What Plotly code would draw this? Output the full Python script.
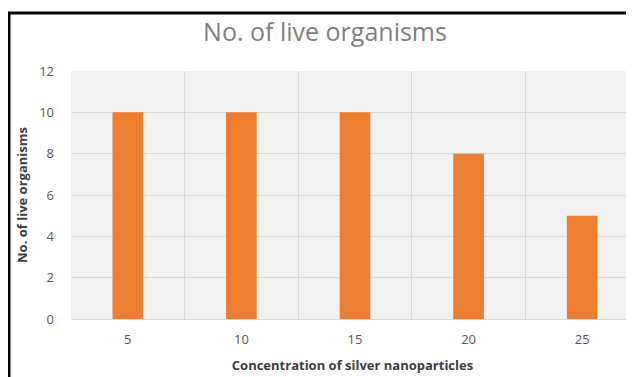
import plotly.graph_objects as go

categories = ["5", "10", "15", "20", "25"]
live_organisms = [10, 10, 10, 8, 5]
y_ticks = [0, 2, 4, 6, 8, 10, 12]

# the page body has an 8px default margin, so the figure is sized to fit
W, H = 626, 369
ml, mr, mt, mb = 63, 0, 63, 58
pw, ph = W - ml - mr, H - mt - mb
CAT_PX = 113.6

def px_x(x):
    return (x - ml) / pw

def px_y(y):
    return (H - mb - y) / ph

fig = go.Figure(go.Bar(
    x=categories, y=live_organisms,
    marker=dict(color="#ED7D31", line=dict(width=0)),
    width=0.27,
))

fig.update_layout(
    width=W, height=H,
    margin=dict(l=ml, r=mr, t=mt, b=mb, pad=0),
    paper_bgcolor="white",
    plot_bgcolor="#f1f1f1",
    showlegend=False,
    title=dict(text="No. of live organisms", x=317 / W, xanchor="center",
               y=1 - 24 / H, yanchor="middle",
               font=dict(family="Open Sans", size=25, color="#7f7f7f")),
    font=dict(family="Open Sans", color="#595959"),
)
fig.update_xaxes(
    type="category", tickson="boundaries", range=[-0.5, -0.5 + pw / CAT_PX],
    showgrid=True, gridcolor="#d9d9d9", gridwidth=1,
    showline=True, linecolor="#d9d9d9", linewidth=1,
    ticks="", tickfont=dict(size=13, color="#595959"), ticklabelstandoff=8,
    title=dict(text="<b>Concentration of silver nanoparticles</b>",
               font=dict(size=13, color="#404040"), standoff=14),
)
fig.update_yaxes(
    range=[0, 12], tickvals=y_ticks,
    showgrid=True, gridcolor="#d9d9d9", gridwidth=1, zeroline=False,
    ticks="", tickfont=dict(size=13, color="#595959"), ticklabelstandoff=16,
    title=dict(text="<b>No. of live organisms</b>",
               font=dict(size=13, color="#404040"), standoff=8),
)

# Black frame lines (top and left) as in the reference screenshot
fig.add_shape(type="line", xref="paper", yref="paper",
              x0=px_x(0), x1=px_x(W + 5), y0=px_y(5), y1=px_y(5),
              line=dict(color="black", width=3))
fig.add_shape(type="line", xref="paper", yref="paper",
              x0=px_x(1), x1=px_x(1), y0=px_y(5), y1=px_y(H + 5),
              line=dict(color="black", width=3))

fig.write_html("out.html")
